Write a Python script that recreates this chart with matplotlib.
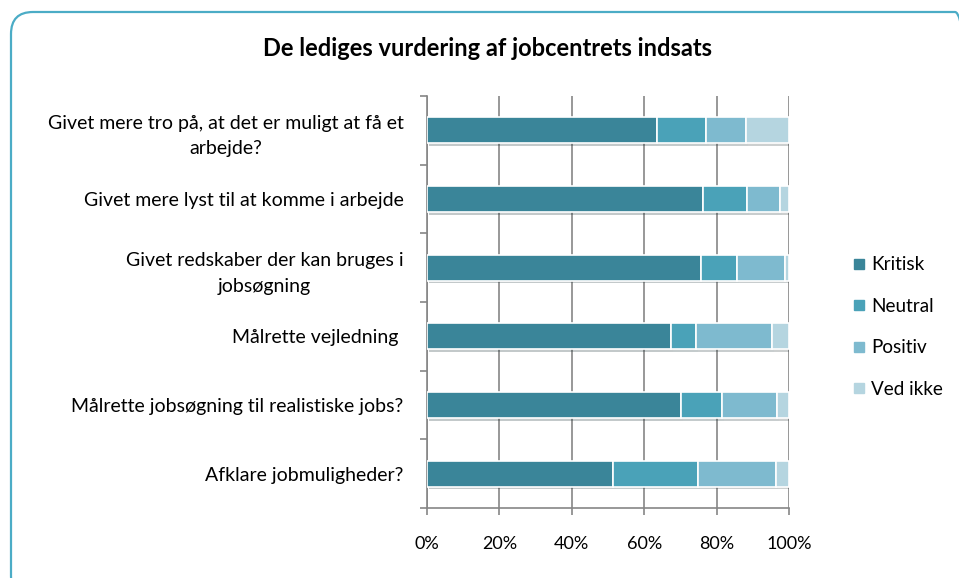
import numpy as np
import matplotlib
matplotlib.use("Agg")
import matplotlib.pyplot as plt
from matplotlib.patches import FancyBboxPatch
from matplotlib.lines import Line2D
import matplotlib.patheffects as pe

plt.rcParams['font.family'] = ['Lato', 'DejaVu Sans']

# data (top to bottom)
questions = [
    "Givet mere tro på, at det er muligt at få et\narbejde?",
    "Givet mere lyst til at komme i arbejde",
    "Givet redskaber der kan bruges i\njobsøgning",
    "Målrette vejledning ",
    "Målrette jobsøgning til realistiske jobs?",
    "Afklare jobmuligheder?",
]
series = ["Kritisk", "Neutral", "Positiv", "Ved ikke"]
kritisk = [63.5, 76.2, 75.6, 67.3, 70.2, 51.5]
neutral = [13.7, 12.2, 9.9, 7.0, 11.2, 23.3]
positiv = [10.9, 9.2, 13.3, 20.9, 15.2, 21.6]
ved_ikke = [11.9, 2.4, 1.2, 4.8, 3.4, 3.6]
colors = ['#3a8599', '#4aa2b8', '#7ebacf', '#b5d5e0']
xticks = [0, 20, 40, 60, 80, 100]

fig = plt.figure(figsize=(9.59, 5.78), dpi=100)
ax = fig.add_axes([427/959, 1 - 508/578, 362/959, 412/578])

# rounded frame around the chart (runs off right and bottom)
frame = FancyBboxPatch((11 / 959, -20 / 578), 966 / 959, 586 / 578,
                       transform=fig.transFigure,
                       boxstyle="round,pad=0,rounding_size=22",
                       mutation_scale=1 / 959, mutation_aspect=959 / 578,
                       fill=False, edgecolor='#4bacc6', linewidth=1.6,
                       clip_on=False)
fig.patches.append(frame)

y = np.arange(len(questions))
left = np.zeros(len(questions))
handles = []
for name, vals, c in zip(series, [kritisk, neutral, positiv, ved_ikke], colors):
    bars = ax.barh(y, vals, left=left, height=0.38, color=c, edgecolor='white',
                   linewidth=1.2, zorder=3, label=name)
    for b in bars:
        b.set_path_effects([pe.SimplePatchShadow(offset=(1.5, -2), alpha=0.25), pe.Normal()])
    left += np.array(vals)
    handles.append(Line2D([], [], marker='s', linestyle='none', markersize=7,
                          markerfacecolor=c, markeredgecolor=c, label=name))

ax.set_xlim(0, 100)
ax.set_ylim(len(questions) - 0.5, -0.5)
ax.set_xticks(xticks)
ax.set_xticklabels([f"{v}%" for v in xticks], fontsize=13)
ax.set_yticks(y)
ax.set_yticklabels(questions, fontsize=14, ha='right', multialignment='center',
                   linespacing=1.6)
ax.set_yticks(np.arange(len(questions) + 1) - 0.5, minor=True)

gray = '#868686'
ax.grid(axis='x', color=gray, linewidth=1.2, zorder=0)
for s in ['top', 'right']:
    ax.spines[s].set_visible(False)
for s in ['left', 'bottom']:
    ax.spines[s].set_color(gray)
    ax.spines[s].set_linewidth(1.2)
ax.tick_params(axis='y', which='major', length=0, pad=17)
ax.tick_params(axis='y', which='minor', length=5, color=gray, width=1.2)
ax.tick_params(axis='x', length=5, color=gray, width=1.2, pad=15)

fig.text(487/959, 1 - 48/578, "De lediges vurdering af jobcentrets indsats",
         ha='center', va='center', fontsize=17, fontweight='bold')

fig.legend(handles=handles, loc='center left', bbox_to_anchor=(833/959, 1 - 327/578),
           frameon=False, fontsize=13.6, labelspacing=1.3, handletextpad=0.1,
           handlelength=1.0)

fig.savefig("out.png", dpi=100)
